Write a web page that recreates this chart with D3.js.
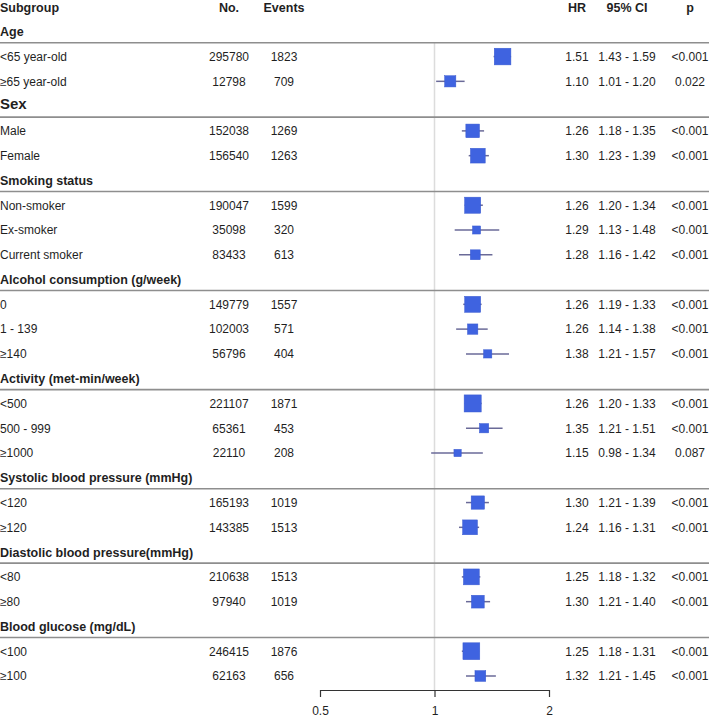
<!DOCTYPE html>
<html><head><meta charset="utf-8">
<script src="https://cdn.jsdelivr.net/npm/d3@7"></script>
<style>
html,body{margin:0;padding:0;background:#fff;}
svg{display:block;font-family:"Liberation Sans",Arial,sans-serif;}
</style></head>
<body><svg id="chart" width="709" height="718"></svg>
<script>
const columnHeaders = ["Subgroup","No.","Events","HR","95% CI","p"];
const groups = ["Age","Sex","Smoking status","Alcohol consumption (g/week)","Activity (met-min/week)","Systolic blood pressure (mmHg)","Diastolic blood pressure(mmHg)","Blood glucose (mg/dL)"];
const subgroups = ["<65 year-old","≥65 year-old","Male","Female","Non-smoker","Ex-smoker","Current smoker","0","1 - 139","≥140","<500","500 - 999","≥1000","<120","≥120","<80","≥80","<100","≥100"];
const groupOf = [0,0,1,1,2,2,2,3,3,3,4,4,4,5,5,6,6,7,7];
const totals = [295780,12798,152038,156540,190047,35098,83433,149779,102003,56796,221107,65361,22110,165193,143385,210638,97940,246415,62163];
const events = [1823,709,1269,1263,1599,320,613,1557,571,404,1871,453,208,1019,1513,1513,1019,1876,656];
const hr = [1.51,1.10,1.26,1.30,1.26,1.29,1.28,1.26,1.26,1.38,1.26,1.35,1.15,1.30,1.24,1.25,1.30,1.25,1.32];
const lower = [1.43,1.01,1.18,1.23,1.20,1.13,1.16,1.19,1.14,1.21,1.20,1.21,0.98,1.21,1.16,1.18,1.21,1.18,1.21];
const upper = [1.59,1.20,1.35,1.39,1.34,1.48,1.42,1.33,1.38,1.57,1.33,1.51,1.34,1.39,1.31,1.32,1.40,1.31,1.45];
const pValues = ["<0.001","0.022","<0.001","<0.001","<0.001","<0.001","<0.001","<0.001","<0.001","<0.001","<0.001","<0.001","0.087","<0.001","<0.001","<0.001","<0.001","<0.001","<0.001"];
const axisTicks = [0.5,1,2];

const svg = d3.select("#chart");
const textColor = "#1f1f1f";

const rows = [];
groups.forEach((g,gi)=>{
  rows.push({type:"group", label:g, gi});
  subgroups.forEach((s,i)=>{ if(groupOf[i]===gi) rows.push({type:"sub", i}); });
});
const nRows = rows.length + 1;
const yRow = d3.scaleLinear().domain([0, nRows-1]).range([7, 676]);

const x = d3.scaleLog().domain([0.5,2]).range([320,549]);
const axisY = 690;
const colX = {no:229, ev:284, hr:577, ci:627, p:690};

const hdrY = yRow(0)+4.5;
svg.append("text").attr("x",0).attr("y",hdrY).attr("font-weight","bold").attr("font-size",12.5).attr("fill",textColor).text(columnHeaders[0]);
[["no",1],["ev",2],["hr",3],["ci",4],["p",5]].forEach(([k,ci])=>{
  svg.append("text").attr("x",colX[k]).attr("y",hdrY).attr("text-anchor","middle")
    .attr("font-weight","bold").attr("font-size",12.5).attr("fill",textColor).text(columnHeaders[ci]);
});

const prec = i => 1/Math.log(upper[i]/lower[i]);
const sizeScale = d3.scaleLinear().domain([3,10]).range([7,17.5]);

let firstSep = null;
rows.forEach((r,k)=>{
  const yc = yRow(k+1);
  if(r.type==="group"){
    const big = r.label==="Sex";
    svg.append("text").attr("x",0).attr("y",yc+(big?2.5:4.5)).attr("font-weight","bold")
      .attr("font-size",big?15:12.5).attr("fill",textColor).text(r.label);
    const ly = yc+11;
    if(firstSep===null) firstSep = ly;
    svg.append("line").attr("x1",0).attr("x2",709).attr("y1",ly).attr("y2",ly)
      .attr("stroke","#8e8e8e").attr("stroke-width",1.6);
  }
});
svg.insert("line",":first-child").attr("x1",x(1)).attr("x2",x(1)).attr("y1",firstSep).attr("y2",axisY)
  .attr("stroke","#dcdcdc").attr("stroke-width",1.5);

rows.forEach((r,k)=>{
  if(r.type!=="sub") return;
  const i = r.i, yc = yRow(k+1), by = yc+4.3;
  const t = (xx,txt,anchor)=>svg.append("text").attr("x",xx).attr("y",by).attr("text-anchor",anchor)
     .attr("font-size",12).attr("fill",textColor).text(txt);
  t(0,subgroups[i],"start");
  t(colX.no,totals[i],"middle");
  t(colX.ev,events[i],"middle");
  t(colX.hr,hr[i].toFixed(2),"middle");
  t(colX.ci,lower[i].toFixed(2)+" - "+upper[i].toFixed(2),"middle");
  t(colX.p,pValues[i],"middle");
  svg.append("line").attr("x1",x(lower[i])).attr("x2",x(upper[i])).attr("y1",yc).attr("y2",yc)
    .attr("stroke","#6a6a98").attr("stroke-width",1.5);
  const s = sizeScale(prec(i));
  svg.append("rect").attr("x",x(hr[i])-s/2).attr("y",yc-s/2).attr("width",s).attr("height",s)
    .attr("fill","#3f63e0").attr("stroke","#3a5bd0").attr("stroke-width",0.5);
});

const axis = d3.axisBottom(x).tickValues(axisTicks).tickFormat(d=>String(d)).tickSize(7).tickSizeOuter(0).tickPadding(9);
const ag = svg.append("g").attr("transform",`translate(0,${axisY})`).call(axis);
ag.select(".domain").attr("stroke","#333").attr("stroke-width",1.2);
ag.selectAll(".tick line").attr("stroke","#333").attr("stroke-width",1.2);
ag.selectAll(".tick text").attr("font-size",12).attr("fill",textColor).attr("font-family","Liberation Sans, Arial, sans-serif");
</script></body></html>
